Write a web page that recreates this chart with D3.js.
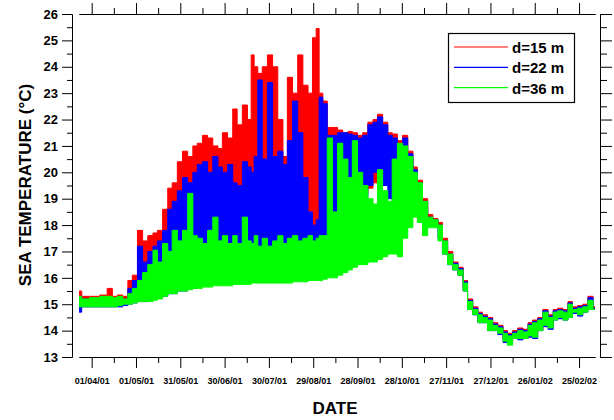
<!DOCTYPE html>
<html>
<head>
<meta charset="utf-8">
<script src="https://cdn.jsdelivr.net/npm/d3@7"></script>
<style>
body { margin: 0; background: #fff; }
svg { display: block; font-family: "Liberation Sans", Arial, sans-serif; font-weight: bold; }
</style>
</head>
<body>
<svg id="chart" width="614" height="420"></svg>
<script>
// days after 01/04/01 for each sample
const days = [-8.5,-5,2,9,12,16,19,23,
  26,29,33,36,40,43,46,50,53,56,
  60,63,67,70,73,77,80,84,87,90,
  94,97,100,104,107,109,111,114,117,121,
  124,128,131,134,138,141,145,148,151,153,
  155,158,161,165,168,172,175,178,182,185,
  189,192,195,199,202,205,209,212,216,219,
  222,226,229,233,236,239,243,246,250,253,
  256,260,263,266,270,273,277,280,283,287,
  290,294,297,300,304,307,311,314,317,321,
  324,327,331,334,338,341];

// d=15 m, low and high of the daily swing
const redLo = [15.0,15.0,15.0,15.0,15.0,15.0,15.0,15.0,
  15.1,15.2,15.3,15.4,15.4,15.5,15.5,15.6,15.7,15.8,
  15.9,16.0,16.0,16.1,16.2,16.3,16.4,16.5,16.5,16.6,
  16.7,16.8,16.8,16.9,17.0,17.0,17.0,17.0,17.1,17.1,
  17.2,17.2,17.3,17.3,17.3,17.4,17.4,17.4,17.5,17.5,
  17.6,17.7,17.8,18.0,18.3,18.5,18.7,18.9,19.1,19.2,
  19.4,19.6,19.8,20.0,20.2,20.4,20.6,20.5,20.5,19.9,
  19.4,18.7,18.1,18.1,17.9,17.2,16.8,16.35,16.15,15.6,
  14.9,14.7,14.4,14.4,14.1,14.1,14.0,13.7,13.6,13.8,
  13.8,13.8,13.9,13.9,14.1,14.3,14.2,14.5,14.6,14.5,
  14.6,14.8,14.7,14.8,14.9,14.85];
const redHi = [15.5,15.3,15.3,15.35,15.6,15.3,15.35,15.3,
  15.9,16.1,17.8,17.4,17.6,17.7,17.8,18.6,19.4,19.6,
  20.4,20.8,20.6,21.0,21.1,21.4,21.3,21.0,20.9,21.5,
  21.3,22.4,21.8,22.55,22.0,24.45,24.0,23.75,24.0,24.45,
  24.0,22.0,20.6,23.6,23.0,24.45,23.3,23.0,25.1,25.45,
  23.0,22.7,21.7,21.7,21.6,21.5,21.55,21.5,21.4,21.5,
  21.9,22.0,22.2,21.9,21.5,21.45,21.2,21.4,20.8,20.2,
  19.7,19.0,18.4,18.25,18.1,17.5,17.0,16.6,16.4,15.9,
  15.2,14.9,14.7,14.6,14.5,14.3,14.2,14.0,13.9,14.0,
  14.1,14.05,14.3,14.4,14.5,14.8,14.6,14.8,14.85,14.8,
  15.1,14.9,14.95,15.0,15.3,14.9];

// d=22 m
const blueLo = [14.7,14.9,14.9,14.9,14.9,14.9,14.9,14.95,
  15.0,15.05,15.1,15.1,15.2,15.2,15.3,15.3,15.4,15.4,
  15.5,15.5,15.6,15.6,15.7,15.7,15.8,15.8,15.8,15.9,
  15.9,15.9,16.0,16.0,16.0,16.0,16.1,16.1,16.1,16.2,
  16.2,16.2,16.3,16.3,16.3,16.4,16.4,16.4,16.5,16.5,
  16.5,16.6,16.7,17.0,17.3,17.5,17.8,18.0,18.2,18.4,
  19.5,20.0,20.0,19.5,19.0,18.5,19.5,19.8,20.3,19.3,
  18.8,18.3,18.0,18.0,17.5,16.9,16.5,16.3,16.1,15.5,
  14.8,14.6,14.3,14.3,14.0,14.0,13.85,13.55,13.5,13.7,
  13.65,13.7,13.75,13.7,14.0,14.15,14.05,14.4,14.45,14.4,
  14.5,14.65,14.55,14.7,14.8,14.8];
const blueHi = [15.3,15.2,15.2,15.2,15.2,15.2,15.25,15.2,
  15.6,15.9,17.2,16.6,17.0,17.2,17.4,17.8,18.6,18.9,
  19.3,19.8,19.6,20.0,20.3,20.4,20.0,20.6,20.2,20.0,
  20.3,19.6,19.5,20.4,20.2,20.0,20.6,23.5,20.5,23.4,
  20.6,20.8,20.3,21.2,22.7,21.5,19.8,18.5,18.0,18.2,
  22.85,22.6,21.4,21.4,21.5,21.5,21.45,21.4,21.3,21.4,
  21.8,21.9,22.1,21.8,21.4,21.3,21.0,21.3,20.7,20.1,
  19.6,18.9,18.3,18.2,18.0,17.4,16.9,16.55,16.35,15.85,
  15.15,14.85,14.65,14.55,14.45,14.25,14.15,13.95,13.85,13.95,
  14.05,14.0,14.25,14.35,14.45,14.75,14.55,14.75,14.8,14.75,
  15.05,14.85,14.9,14.95,15.25,14.85];

// d=36 m
const greenLo = [14.9,14.9,14.9,14.9,14.9,14.9,14.95,15.0,
  15.0,15.05,15.1,15.1,15.1,15.15,15.2,15.3,15.4,15.4,
  15.5,15.5,15.55,15.6,15.6,15.65,15.65,15.7,15.7,15.7,
  15.7,15.75,15.75,15.75,15.75,15.8,15.8,15.8,15.8,15.8,
  15.8,15.8,15.8,15.8,15.85,15.85,15.85,15.9,15.9,15.9,
  15.9,15.95,16.0,16.0,16.1,16.2,16.3,16.4,16.5,16.5,
  16.6,16.6,16.7,16.8,16.9,16.9,16.8,17.5,17.9,18.3,
  18.1,17.6,17.9,17.9,17.4,16.9,16.5,16.3,16.1,15.5,
  14.8,14.6,14.3,14.3,14.0,14.0,13.9,13.6,13.45,13.7,
  13.7,13.7,13.8,13.75,14.0,14.2,14.1,14.4,14.5,14.4,
  14.5,14.7,14.6,14.7,14.8,14.8];
const greenHi = [15.3,15.2,15.25,15.3,15.3,15.25,15.3,15.2,
  15.4,15.6,15.9,16.2,16.5,17.05,16.6,17.3,17.0,17.8,
  17.4,17.8,19.2,17.6,17.5,17.3,17.8,18.3,17.4,17.6,
  17.3,17.6,17.3,18.3,17.4,17.3,17.6,17.2,17.5,17.2,
  17.4,17.6,17.3,17.5,17.6,17.4,17.5,17.6,17.4,17.5,
  17.6,17.6,21.3,18.5,21.1,20.5,19.8,21.2,20.0,19.5,
  19.0,18.8,20.1,19.3,18.9,20.5,21.1,21.0,20.6,20.0,
  19.6,18.9,18.3,18.2,18.0,17.4,16.9,16.5,16.3,15.8,
  15.1,14.8,14.6,14.5,14.4,14.2,14.1,13.9,13.8,13.9,
  14.0,13.95,14.2,14.3,14.4,14.7,14.5,14.7,14.75,14.7,
  15.0,14.8,14.85,14.9,15.15,14.8];

const xTickLabels = ["01/04/01","01/05/01","31/05/01","30/06/01","30/07/01","29/08/01",
  "28/09/01","28/10/01","27/11/01","27/12/01","26/01/02","25/02/02"];
const yTickLabels = [13,14,15,16,17,18,19,20,21,22,23,24,25,26];
const seriesNames = ["d=15 m","d=22 m","d=36 m"];
const seriesColors = ["#ff0000","#0000ff","#00ff00"];

const svg = d3.select("#chart");
const parse = d3.utcParse("%d/%m/%y");
const day0 = parse("01/04/01");
const toDate = d => d3.utcHour.offset(day0, Math.round(d * 24));

const x = d3.scaleUtc().domain([toDate(-8.6), toDate(340.8)]).range([79, 595]);
const y = d3.scaleLinear().domain([13, 26]).range([357, 14]);

const majorDates = xTickLabels.map(parse);
const minorDates = majorDates.map(d => d3.utcDay.offset(d, 15)).filter(d => d <= x.domain()[1]);
const minorY = yTickLabels.slice(0, -1).map(v => v + 0.5);

svg.append("rect").attr("width", 614).attr("height", 420).attr("fill", "#fff");

// series, deepest drawn last (on top)
const series = [
  { lo: redLo, hi: redHi },
  { lo: blueLo, hi: blueHi },
  { lo: greenLo, hi: greenHi }
];

svg.append("clipPath").attr("id", "clip")
  .append("rect").attr("x", 79).attr("y", 0).attr("width", 516).attr("height", 420);

const band = d3.area()
  .x((d, i) => x(toDate(days[i])))
  .y0(d => y(d[0]))
  .y1(d => y(d[1]))
  .curve(d3.curveStep);

const plot = svg.append("g").attr("clip-path", "url(#clip)");
series.forEach((s, k) => {
  const rows = days.map((d, i) => [s.lo[i], s.hi[i]]);
  plot.append("path")
    .datum(rows)
    .attr("d", band)
    .attr("fill", seriesColors[k])
    .attr("stroke", seriesColors[k])
    .attr("stroke-width", 1);
});

// axes
function styleAxis(g) {
  g.attr("color", "#000");
  g.selectAll("path, line").attr("stroke-width", 1);
}

svg.append("g").attr("transform", "translate(0,357)")
  .call(d3.axisBottom(x).tickValues(majorDates).tickSize(11).tickSizeOuter(0)
    .tickPadding(10).tickFormat(d3.utcFormat("%d/%m/%y")))
  .call(styleAxis)
  .call(g => g.selectAll("text").attr("font-size", 9).attr("font-weight", "bold"));
svg.append("g").attr("transform", "translate(0,357)")
  .call(d3.axisBottom(x).tickValues(minorDates).tickSize(6).tickSizeOuter(0).tickFormat(""))
  .call(styleAxis);

svg.append("g").attr("transform", "translate(0,14)")
  .call(d3.axisTop(x).tickValues(majorDates).tickSize(11).tickSizeOuter(0).tickFormat(""))
  .call(styleAxis);
svg.append("g").attr("transform", "translate(0,14)")
  .call(d3.axisTop(x).tickValues(minorDates).tickSize(6).tickSizeOuter(0).tickFormat(""))
  .call(styleAxis);

svg.append("g").attr("transform", "translate(72,0)")
  .call(d3.axisLeft(y).tickValues(yTickLabels).tickSize(10).tickSizeOuter(0).tickPadding(4))
  .call(styleAxis)
  .call(g => g.selectAll("text").attr("font-size", 13).attr("font-weight", "bold"));
svg.append("g").attr("transform", "translate(72,0)")
  .call(d3.axisLeft(y).tickValues(minorY).tickSize(5).tickSizeOuter(0).tickFormat(""))
  .call(styleAxis);

svg.append("g").attr("transform", "translate(600,0)")
  .call(d3.axisRight(y).tickValues(yTickLabels).tickSize(12).tickSizeOuter(0).tickFormat(""))
  .call(styleAxis);
svg.append("g").attr("transform", "translate(600,0)")
  .call(d3.axisRight(y).tickValues(minorY).tickSize(7).tickSizeOuter(0).tickFormat(""))
  .call(styleAxis);

// titles
svg.append("text")
  .attr("transform", "translate(31,185) rotate(-90)")
  .attr("text-anchor", "middle")
  .attr("font-size", 17)
  .text("SEA TEMPERATURE (°C)");

svg.append("text")
  .attr("x", 335).attr("y", 414)
  .attr("text-anchor", "middle")
  .attr("font-size", 17)
  .text("DATE");

// legend
const legend = svg.append("g");
legend.append("rect")
  .attr("x", 448.5).attr("y", 33.5).attr("width", 126).attr("height", 69)
  .attr("fill", "#fff").attr("stroke", "#000").attr("stroke-width", 1.2);
seriesNames.forEach((name, k) => {
  const ly = 47 + k * 20.3;
  legend.append("line")
    .attr("x1", 454).attr("x2", 508).attr("y1", ly).attr("y2", ly)
    .attr("stroke", seriesColors[k]).attr("stroke-width", 1.2);
  legend.append("text")
    .attr("x", 512).attr("y", ly + 6)
    .attr("font-size", 15)
    .text(name);
});
</script>
</body>
</html>
